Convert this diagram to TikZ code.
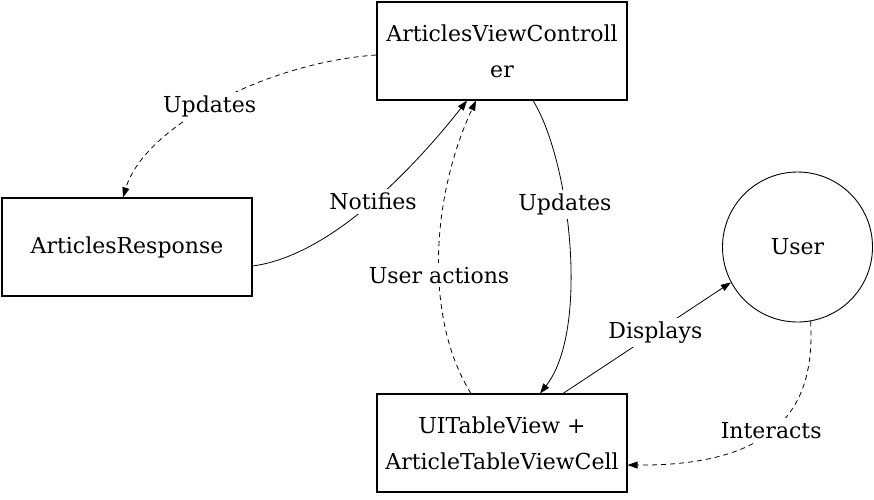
\documentclass[tikz,border=0pt]{standalone}
\usepackage{fontspec}
\setmainfont{DejaVu Serif}
\usetikzlibrary{arrows.meta,positioning,calc}

\begin{document}
\begin{tikzpicture}[
    x=1pt, y=-1pt,
    font=\fontsize{22}{36}\selectfont,
    box/.style={draw, line width=1.1pt, minimum width=250pt, minimum height=98pt, align=center, inner sep=0pt},
    actor/.style={draw, line width=0.9pt, circle, minimum size=150pt, inner sep=0pt},
    arrow/.style={-{Triangle[length=10pt, width=7pt]}, line width=0.8pt},
    flow/.style={arrow, dash pattern=on 5pt off 4pt},
    lbl/.style={fill=white, inner sep=4pt}
]
\useasboundingbox (0,0) rectangle (874,499);

\node[box] (avc) at (502,51) {ArticlesViewControll\\er};
\node[box] (resp) at (127,247) {ArticlesResponse};
\node[box] (table) at (502,443) {UITableView +\\ArticleTableViewCell};
\node[actor] (user) at (797.5,247) {User};

% controller <-> response
\draw[flow] ($(avc.west)+(0,4)$) .. controls (270,62) and (145,125) ..
    node[lbl, pos=0.53] {Updates} ($(resp.north)+(-4,0)$);
\draw[arrow] ($(resp.east)+(0,19)$) .. controls (335,255) and (420,160) ..
    node[lbl, pos=0.5] {Notifies} ($(avc.south)+(-35,0)$);

% controller <-> table
\draw[flow] ($(table.north)+(-31,0)$) .. controls (425,320) and (430,200) ..
    node[lbl, pos=0.44] {User actions} ($(avc.south)+(-26,0)$);
\draw[arrow] ($(avc.south)+(31,0)$) .. controls (570,160) and (590,330) ..
    node[lbl, pos=0.38] {Updates} ($(table.north)+(38,0)$);

% table <-> user
\draw[arrow] ($(table.north)+(61,0)$) -- node[lbl, pos=0.55] {Displays} (user.208);
\draw[flow] (user.280) .. controls (815,400) and (785,466) ..
    node[lbl, pos=0.55] {Interacts} ($(table.east)+(0,22)$);

\end{tikzpicture}
\end{document}
